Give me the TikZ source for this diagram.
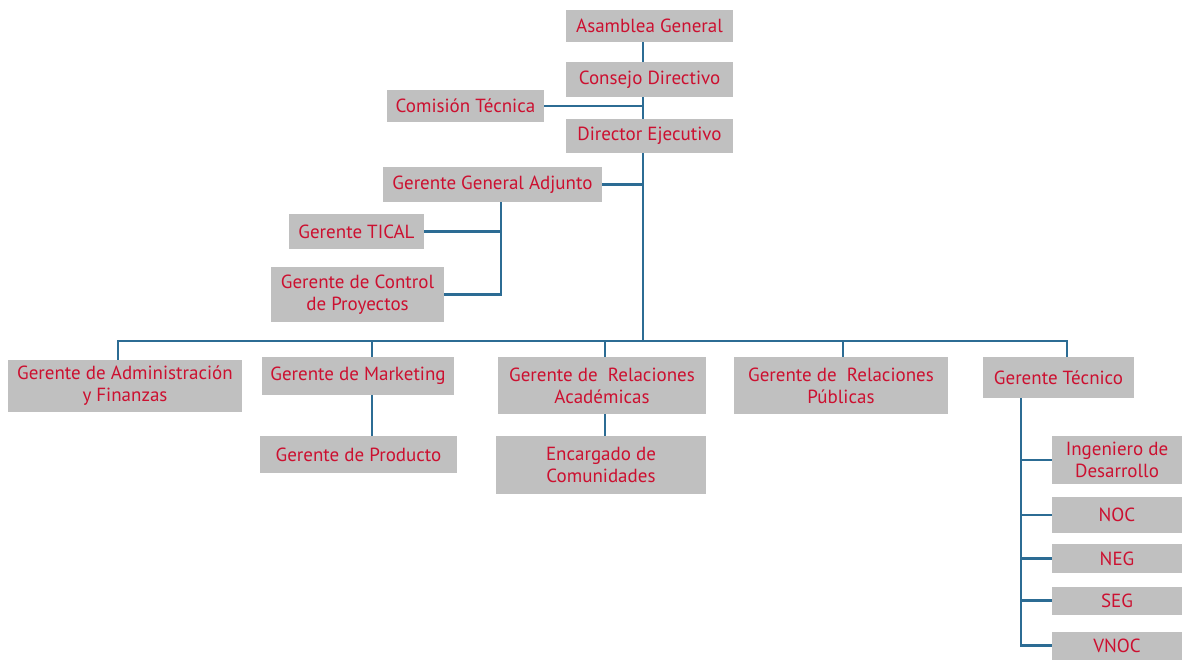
\documentclass[tikz,border=0pt]{standalone}
\usepackage{fontspec}
\setmainfont{PT Sans}
\definecolor{boxgray}{RGB}{192,192,192}
\definecolor{txtred}{RGB}{204,16,48}
\definecolor{lineblue}{RGB}{44,108,148}
\begin{document}
\begin{tikzpicture}[x=1pt,y=-1pt,
  box/.style={fill=boxgray,text=txtred,inner sep=0pt,align=center,
    font=\fontsize{19}{22}\selectfont},
  conn/.style={draw=lineblue,line width=2.1pt}]
\useasboundingbox (0,0) rectangle (1182,659);
\node[box,minimum width=167,minimum height=32] (ag) at (649.5,26) {Asamblea General};
\node[box,minimum width=167,minimum height=35] (cd) at (649.5,79.5) {Consejo Directivo};
\node[box,minimum width=157,minimum height=32] (ct) at (465.5,106) {Comisión Técnica};
\node[box,minimum width=167,minimum height=34] (de) at (649.5,136) {Director Ejecutivo};
\node[box,minimum width=219,minimum height=35] (gga) at (492.5,184.5) {Gerente General Adjunto};
\node[box,minimum width=135,minimum height=35] (tical) at (356.5,231.5) {Gerente TICAL};
\node[box,minimum width=173,minimum height=55] (gcp) at (357.5,294.5) {Gerente de Control\\de Proyectos};
\node[box,minimum width=234,minimum height=52] (gaf) at (125,386) {Gerente de Administración\\y Finanzas};
\node[box,minimum width=192,minimum height=38] (gm) at (358,376) {Gerente de Marketing};
\node[box,minimum width=197,minimum height=37] (gp) at (358.5,454.5) {Gerente de Producto};
\node[box,minimum width=208,minimum height=57] (gra) at (602,385.5) {Gerente de\ \ Relaciones\\Académicas};
\node[box,minimum width=210,minimum height=58] (ec) at (601,465) {Encargado de\\Comunidades};
\node[box,minimum width=214,minimum height=57] (grp) at (841,385.5) {Gerente de\ \ Relaciones\\Públicas};
\node[box,minimum width=151,minimum height=41] (gt) at (1058.5,377.5) {Gerente Técnico};
\node[box,minimum width=130,minimum height=48] (ing) at (1117,460) {Ingeniero de\\Desarrollo};
\node[box,minimum width=130,minimum height=36] (noc) at (1117,515) {NOC};
\node[box,minimum width=130,minimum height=29] (neg) at (1117,558.5) {NEG};
\node[box,minimum width=130,minimum height=28] (seg) at (1117,600.5) {SEG};
\node[box,minimum width=130,minimum height=28] (vnoc) at (1117,645.5) {VNOC};
\coordinate (tx) at (643,0);
\coordinate (gx) at (501,0);
\coordinate (tcx) at (1021,0);
\coordinate (mx) at (372,0);
\coordinate (ax) at (605,0);
\coordinate (px) at (843,0);
\coordinate (busl) at (118,341);
\coordinate (busr) at (1067,341);
\coordinate (bus) at (643,341);
\draw[conn] (ag.south -| tx) -- (cd.north -| tx);
\draw[conn] (cd.south -| tx) -- (de.north -| tx);
\draw[conn] (ct.east) -- (ct.east -| tx);
\draw[conn] (de.south -| tx) -- (bus);
\draw[conn] (gga.east) -- (gga.east -| tx);
\draw[conn] (gga.south -| gx) -- (gcp.east -| gx) -- (gcp.east);
\draw[conn] (tical.east) -- (tical.east -| gx);
\draw[conn] (gaf.north -| busl) -- (busl) -- (busr) -- (gt.north -| busr);
\draw[conn] (gm.north -| mx) -- (bus -| mx);
\draw[conn] (gra.north -| ax) -- (bus -| ax);
\draw[conn] (grp.north -| px) -- (bus -| px);
\draw[conn] (gm.south -| mx) -- (gp.north -| mx);
\draw[conn] (gra.south -| ax) -- (ec.north -| ax);
\draw[conn] (gt.south -| tcx) -- (vnoc.west -| tcx) -- (vnoc.west);
\draw[conn] (ing.west) -- (ing.west -| tcx);
\draw[conn] (noc.west) -- (noc.west -| tcx);
\draw[conn] (neg.west) -- (neg.west -| tcx);
\draw[conn] (seg.west) -- (seg.west -| tcx);
\end{tikzpicture}
\end{document}
